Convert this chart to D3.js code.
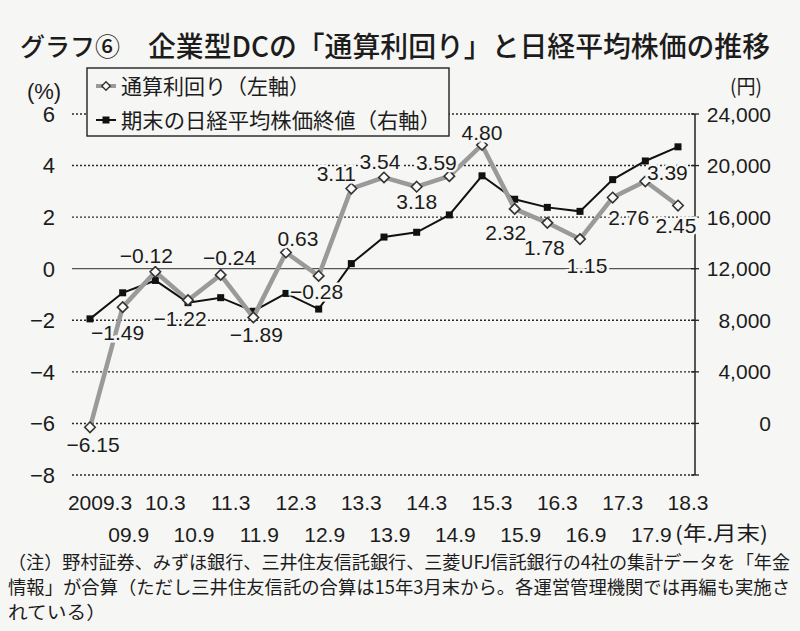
<!DOCTYPE html>
<meta charset="utf-8">
<style>
  body { margin: 0; background: #f6f6f4; }
  svg { display: block; }
  text { fill: #1c1c1c; }
  .jp { font-family: "Noto Sans CJK JP", sans-serif; }
  .num { font-family: "Liberation Sans", Arial, sans-serif; }
</style>
<body>
  <svg width="800" height="631"></svg>
  <script src="https://cdn.jsdelivr.net/npm/d3@7"></script>
  <script>
    // data
    const periods = ["2009.3", "09.9", "10.3", "10.9", "11.3", "11.9", "12.3", "12.9", "13.3", "13.9",
      "14.3", "14.9", "15.3", "15.9", "16.3", "16.9", "17.3", "17.9", "18.3"];
    const returnRate = [-6.15, -1.49, -0.12, -1.22, -0.24, -1.89, 0.63, -0.28, 3.11, 3.54,
      3.18, 3.59, 4.80, 2.32, 1.78, 1.15, 2.76, 3.39, 2.45];
    const nikkei = [8109, 10133, 11089, 9369, 9755, 8700, 10083, 8870, 12397, 14455,
      14827, 16173, 19206, 17388, 16758, 16449, 18909, 20356, 21454];
    const leftTicks = [-8, -6, -4, -2, 0, 2, 4, 6];
    const rightTicks = [0, 4000, 8000, 12000, 16000, 20000, 24000];
    // label placement relative to each point (layout only)
    const labelOffsets = [[3, 17], [-5, 25], [-9, -16], [-8, 18], [9, -17], [3, 17], [12, -14], [-2, 16],
      [-15, -15], [-4, -16], [0, 15], [-13, -14], [0, -13], [-9, 24], [-3, 25], [7, 26], [16, 20], [22, -9], [-2, 20]];

    const bg = "#f6f6f4";
    const svg = d3.select("svg");
    svg.append("rect").attr("width", 800).attr("height", 631).attr("fill", bg);

    const x = d3.scalePoint().domain(periods).range([90, 678]);
    const yL = d3.scaleLinear().domain([-8, 6]).range([475, 114]);
    const yR = d3.scaleLinear().domain([-4000, 24000]).range([475, 114]);
    const gridX0 = 72, axisX = 695;

    // title
    svg.append("text").attr("class", "jp").attr("x", 20).attr("y", 56)
      .attr("font-size", 25).attr("font-weight", 500).text("グラフ⑥");
    svg.append("text").attr("class", "jp").attr("x", 148).attr("y", 57)
      .attr("font-size", 28).attr("font-weight", 500)
      .attr("textLength", 622).attr("lengthAdjust", "spacingAndGlyphs")
      .text("企業型DCの「通算利回り」と日経平均株価の推移");

    // grid
    svg.append("g").selectAll("line").data(leftTicks).join("line")
      .attr("x1", gridX0).attr("x2", axisX)
      .attr("y1", d => yL(d)).attr("y2", d => yL(d))
      .attr("stroke", d => d === 0 ? "#555" : "#2a2a2a")
      .attr("stroke-width", d => d === 0 ? 1.3 : 1.4)
      .attr("stroke-dasharray", d => d === 0 ? null : "2,2");

    // right axis
    svg.append("line").attr("x1", axisX).attr("x2", axisX)
      .attr("y1", yL(6)).attr("y2", yL(-8)).attr("stroke", "#222").attr("stroke-width", 1.5);
    svg.append("g").selectAll("line").data(leftTicks).join("line")
      .attr("x1", axisX - 4).attr("x2", axisX + 4)
      .attr("y1", d => yL(d)).attr("y2", d => yL(d)).attr("stroke", "#222").attr("stroke-width", 1.3);

    svg.append("g").selectAll("text").data(leftTicks).join("text")
      .attr("class", "num").attr("x", 55).attr("y", d => yL(d)).attr("dy", "0.36em")
      .attr("text-anchor", "end").attr("font-size", 22)
      .text(d => d < 0 ? "\u2212" + Math.abs(d) : d);
    svg.append("g").selectAll("text").data(rightTicks).join("text")
      .attr("class", "num").attr("x", 771).attr("y", d => yR(d)).attr("dy", "0.36em")
      .attr("text-anchor", "end").attr("font-size", 21)
      .text(d => d3.format(",")(d));
    svg.append("text").attr("class", "num").attr("x", 44).attr("y", 91).attr("dy", "0.36em")
      .attr("text-anchor", "middle").attr("font-size", 22).text("(%)");
    svg.append("text").attr("class", "jp").attr("x", 746).attr("y", 87).attr("dy", "0.36em")
      .attr("text-anchor", "middle").attr("font-size", 20)
      .attr("textLength", 32).attr("lengthAdjust", "spacingAndGlyphs").text("(円)");

    // x labels
    svg.append("g").selectAll("text").data(periods).join("text")
      .attr("class", "num").attr("x", (d, i) => x(d) + (i % 2 === 0 ? 10 : 6))
      .attr("y", (d, i) => i % 2 === 0 ? 510 : 542)
      .attr("text-anchor", "middle").attr("font-size", 21)
      .text(d => d);
    svg.append("text").attr("class", "jp").attr("x", 675).attr("y", 541)
      .attr("font-size", 20).attr("textLength", 93).attr("lengthAdjust", "spacingAndGlyphs")
      .text("(年.月末)");

    // lines
    const lineL = d3.line().x((d, i) => x(periods[i])).y(d => yL(d));
    const lineR = d3.line().x((d, i) => x(periods[i])).y(d => yR(d));

    svg.append("path").datum(nikkei).attr("d", lineR)
      .attr("fill", "none").attr("stroke", "#111").attr("stroke-width", 2);
    svg.append("g").selectAll("rect").data(nikkei).join("rect")
      .attr("x", (d, i) => x(periods[i]) - 3.5).attr("y", d => yR(d) - 3.5)
      .attr("width", 7).attr("height", 7).attr("fill", "#111");

    svg.append("path").datum(returnRate).attr("d", lineL)
      .attr("fill", "none").attr("stroke", "#9a9a9a").attr("stroke-width", 4.5)
      .attr("stroke-linejoin", "round");
    const diamond = d3.symbol().type(d3.symbolDiamond2).size(70);
    svg.append("g").selectAll("path").data(returnRate).join("path")
      .attr("transform", (d, i) => `translate(${x(periods[i])},${yL(d)})`)
      .attr("d", diamond).attr("fill", "#fafafa").attr("stroke", "#333").attr("stroke-width", 1.6);

    // value labels
    svg.append("g").selectAll("text").data(returnRate).join("text")
      .attr("class", "num")
      .attr("x", (d, i) => x(periods[i]) + labelOffsets[i][0])
      .attr("y", (d, i) => yL(d) + labelOffsets[i][1]).attr("dy", "0.36em")
      .attr("text-anchor", "middle").attr("font-size", 21)
      .attr("stroke", bg).attr("stroke-width", 5).attr("paint-order", "stroke")
      .text(d => d < 0 ? "\u2212" + d3.format(".2f")(-d) : d3.format(".2f")(d));

    // legend
    const lg = svg.append("g");
    lg.append("rect").attr("x", 87).attr("y", 68).attr("width", 362).attr("height", 68)
      .attr("fill", bg).attr("stroke", "#222").attr("stroke-width", 1.4);
    lg.append("line").attr("x1", 96).attr("x2", 116).attr("y1", 86).attr("y2", 86)
      .attr("stroke", "#9a9a9a").attr("stroke-width", 4);
    lg.append("path").attr("transform", "translate(106,86)")
      .attr("d", d3.symbol().type(d3.symbolDiamond2).size(45))
      .attr("fill", "#fafafa").attr("stroke", "#333").attr("stroke-width", 1.4);
    lg.append("text").attr("class", "jp").attr("x", 121).attr("y", 86).attr("dy", "0.36em")
      .attr("font-size", 21).text("通算利回り（左軸）");
    lg.append("line").attr("x1", 96).attr("x2", 116).attr("y1", 120).attr("y2", 120)
      .attr("stroke", "#111").attr("stroke-width", 2);
    lg.append("rect").attr("x", 102.5).attr("y", 116.5).attr("width", 7).attr("height", 7).attr("fill", "#111");
    lg.append("text").attr("class", "jp").attr("x", 121).attr("y", 120).attr("dy", "0.36em")
      .attr("font-size", 21).attr("textLength", 320).attr("lengthAdjust", "spacingAndGlyphs")
      .text("期末の日経平均株価終値（右軸）");

    // note
    const notes = [
      "（注）野村証券、みずほ銀行、三井住友信託銀行、三菱UFJ信託銀行の4社の集計データを「年金",
      "情報」が合算（ただし三井住友信託の合算は15年3月末から。各運営管理機関では再編も実施さ",
      "れている）"
    ];
    const noteW = [782, 782, 98];
    svg.append("g").selectAll("text").data(notes).join("text")
      .attr("class", "jp").attr("x", 8).attr("y", (d, i) => 569 + i * 25)
      .attr("font-size", 18).attr("textLength", (d, i) => noteW[i])
      .attr("lengthAdjust", "spacingAndGlyphs").text(d => d);
  </script>
</body>
